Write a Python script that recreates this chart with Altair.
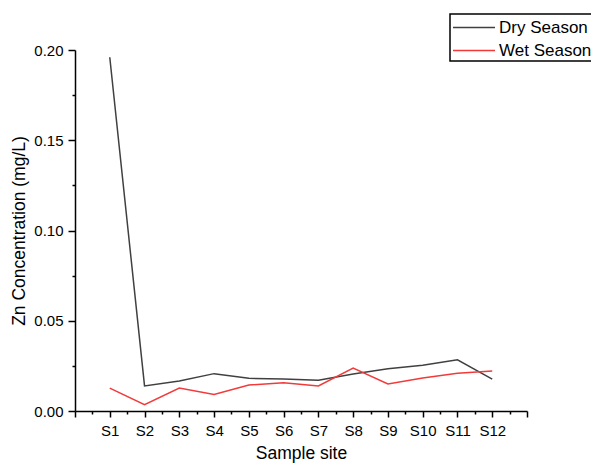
import altair as alt
import pandas as pd

sites = ["S1", "S2", "S3", "S4", "S5", "S6", "S7", "S8", "S9", "S10", "S11", "S12"]
site_pos = list(range(1, 13))
dry = [0.196, 0.0139, 0.0166, 0.0207, 0.0181, 0.0177, 0.0170, 0.0205, 0.0234, 0.0253, 0.0284, 0.0177]
wet = [0.0127, 0.0035, 0.0127, 0.0092, 0.0144, 0.0157, 0.0139, 0.0238, 0.0150, 0.0183, 0.0209, 0.0222]
series = ["Dry Season", "Wet Season"]
colors = ["#404040", "#f23a3a"]

rows = []
for s, p, d, w in zip(sites, site_pos, dry, wet):
    rows.append({"site": s, "pos": p, "value": d, "season": series[0]})
    rows.append({"site": s, "pos": p, "value": w, "season": series[1]})
df = pd.DataFrame(rows)

x_vals = [i * 0.5 for i in range(0, 27)]
y_vals = [i * 0.025 for i in range(0, 9)]

font = "Liberation Sans"

chart = alt.Chart(df).mark_line(strokeWidth=1.5).encode(
    x=alt.X("pos:Q",
            scale=alt.Scale(domain=[0, 13], nice=False, zero=False),
            axis=alt.Axis(
                title="Sample site",
                values=x_vals,
                labelExpr="(datum.value >= 1 && datum.value <= 12 && datum.value % 1 == 0) ? 'S' + datum.value : ''",
                tickSize={"condition": {"test": "datum.value % 1 == 0", "value": 6}, "value": 3},
                grid=False,
                domainColor="black", domainWidth=1.5,
                tickColor="black", tickWidth=1.5,
                labelFont=font, labelFontSize=15, labelColor="black",
                labelPadding=6, labelFlush=False, labelOverlap=False,
                titleFont=font, titleFontSize=17.5, titleFontWeight="normal",
                titleColor="black", titlePadding=6,
            )),
    y=alt.Y("value:Q",
            scale=alt.Scale(domain=[0, 0.2], nice=False),
            axis=alt.Axis(
                title="Zn Concentration (mg/L)",
                values=y_vals,
                labelExpr="(abs(datum.value * 20 - round(datum.value * 20)) < 0.001) ? format(datum.value, '.2f') : ''",
                tickSize={"condition": {"test": "abs(datum.value * 20 - round(datum.value * 20)) < 0.001", "value": 7}, "value": 3},
                grid=False,
                domainColor="black", domainWidth=1.5,
                tickColor="black", tickWidth=1.5,
                labelFont=font, labelFontSize=15, labelColor="black",
                labelPadding=5, labelFlush=False, labelOverlap=False,
                titleFont=font, titleFontSize=17.5, titleFontWeight="normal",
                titleColor="black", titlePadding=5,
            )),
    color=alt.Color("season:N",
                    scale=alt.Scale(domain=series, range=colors),
                    legend=alt.Legend(
                        title=None, orient="none", legendX=375, legendY=-36,
                        symbolType="M-1,0L3,0", symbolSize=441, symbolStrokeWidth=1.5,
                        labelFont=font, labelFontSize=17, labelColor="black",
                        strokeColor="black", padding=2, rowPadding=3,
                        labelOffset=24,
                    )),
    detail="season:N",
    order="pos:Q",
).properties(
    width=452, height=361,
    autosize=alt.AutoSizeParams(type="none"),
    padding={"left": 67, "top": 42, "right": 64, "bottom": 55},
).configure_view(stroke=None).configure_legend(strokeWidth=1.5)

chart.save("out.html", embed_options={"renderer": "svg", "actions": False})
